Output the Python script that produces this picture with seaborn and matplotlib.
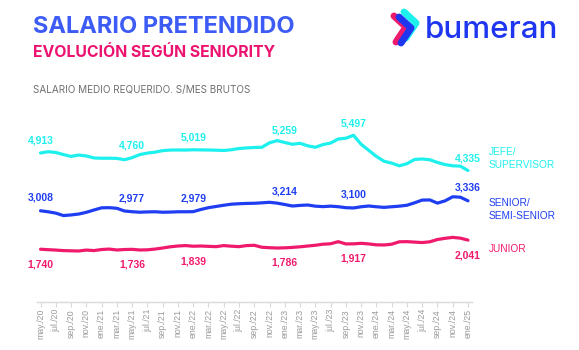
import matplotlib
matplotlib.use("Agg")
import matplotlib.pyplot as plt
import numpy as np
import pandas as pd
import seaborn as sns

# Monthly series, may./20 .. ene./25 (57 months)
jefe = [4913, 4955, 4930, 4860, 4800, 4845, 4815, 4750, 4740, 4740,
        4735, 4690, 4760, 4860, 4910, 4940, 4990, 5010, 5012, 5010,
        5019, 5015, 5012, 5005, 4995, 5020, 5060, 5080, 5095, 5100,
        5250, 5320, 5259, 5200, 5232, 5150, 5100, 5190, 5240, 5374,
        5400, 5497, 5200, 5000, 4800, 4640, 4580, 4490, 4560, 4700,
        4715, 4690, 4600, 4530, 4490, 4480, 4335]
senior = [3008, 2975, 2930, 2850, 2870, 2900, 2957, 3033, 3105, 3110,
          3090, 3000, 2977, 2960, 2970, 2975, 2960, 2965, 2975, 2975,
          2979, 3050, 3110, 3150, 3190, 3225, 3240, 3250, 3255, 3270,
          3287, 3260, 3214, 3165, 3185, 3198, 3160, 3145, 3160, 3142,
          3110, 3100, 3140, 3165, 3140, 3120, 3140, 3160, 3190, 3270,
          3360, 3365, 3260, 3335, 3470, 3455, 3336]
junior = [1740, 1725, 1712, 1695, 1688, 1682, 1712, 1695, 1730, 1745,
          1715, 1730, 1736, 1715, 1720, 1745, 1780, 1820, 1846, 1860,
          1839, 1846, 1835, 1825, 1860, 1840, 1825, 1860, 1870, 1805,
          1790, 1780, 1786, 1800, 1820, 1846, 1870, 1905, 1920, 1989,
          1915, 1917, 1935, 1915, 1885, 1880, 1905, 1985, 1990, 1975,
          1960, 1985, 2060, 2100, 2130, 2105, 2041]

# Months whose value is written on the chart
label_months = [0, 12, 20, 32, 41, 56]

tick_labels = ["may./20", "jul./20", "sep./20", "nov./20", "ene./21", "mar./21",
               "may./21", "jul./21", "sep./21", "nov./21", "ene./22", "mar./22",
               "may./22", "jul./22", "sep./22", "nov./22", "ene./23", "mar./23",
               "may./23", "jul./23", "sep./23", "nov./23", "ene./24", "mar./24",
               "may./24", "jul./24", "sep./24", "nov./24", "ene./25"]

series_names = ["JEFE/\nSUPERVISOR", "SENIOR/\nSEMI-SENIOR", "JUNIOR"]
CYAN, BLUE, PINK = "#1ef0ee", "#1f3ef2", "#f01a6c"
palette = dict(zip(series_names, [CYAN, BLUE, PINK]))

n = len(jefe)
df = pd.DataFrame({
    "mes": np.tile(np.arange(n), 3),
    "salario": jefe + senior + junior,
    "serie": np.repeat(series_names, n),
})

sns.set_theme(style="white")
plt.rcParams["font.family"] = ["Liberation Sans", "DejaVu Sans"]

W, H = 579, 350
fig = plt.figure(figsize=(W / 100, H / 100), dpi=100)
fig.patch.set_facecolor("white")

ax_left, ax_right, ax_bottom, ax_top = 36.7, 471.8, 302, 100
ax = fig.add_axes([ax_left / W, 1 - ax_bottom / H,
                   (ax_right - ax_left) / W, (ax_bottom - ax_top) / H])

sns.lineplot(data=df, x="mes", y="salario", hue="serie", palette=palette,
             linewidth=2.3, legend=False, ax=ax)

ax.set_xlim(-0.5, n - 0.5)
ax.set_ylim(0, 6660)
ax.set_xlabel("")
ax.set_ylabel("")
ax.set_yticks([])
ax.set_xticks(np.arange(0, n, 2))
ax.set_xticklabels(tick_labels, rotation=90, fontsize=6.3, color="#9a9a9a")
ax.tick_params(axis="x", length=3.5, width=0.8, color="#d9d9d9", pad=1.5,
               bottom=True, direction="out")
for side in ["top", "right", "left"]:
    ax.spines[side].set_visible(False)
ax.spines["bottom"].set_color("#d9d9d9")
ax.spines["bottom"].set_linewidth(1.0)
ax.set_facecolor("white")

# Value labels
for values, color, dy in [(jefe, CYAN, 12), (senior, BLUE, 13), (junior, PINK, -15)]:
    for m in label_months:
        ax.annotate(f"{values[m]:,}", (m, values[m]), xytext=(0, dy),
                    textcoords="offset pixels", ha="center", va="center",
                    fontsize=7.5, fontweight="bold", color=color)

# Series names at the right end
def px(x, y):
    return x / W, 1 - y / H

for name, color, y in [(series_names[0], CYAN, 158.5),
                       (series_names[1], BLUE, 209.5),
                       (series_names[2], PINK, 248.5)]:
    fig.text(*px(489, y), name, color=color, fontsize=7.3, ha="left",
             va="center", linespacing=1.45)

# Headings
fig.text(*px(33, 33), "SALARIO PRETENDIDO", family=["Inter", "DejaVu Sans"],
         fontsize=17.0, fontweight="bold", color="#3d5cf5", va="baseline")
fig.text(*px(33, 57), "EVOLUCIÓN SEGÚN SENIORITY", family=["Inter", "DejaVu Sans"],
         fontsize=11.4, fontweight="bold", color="#ec1270", va="baseline")
fig.text(*px(33, 93), "SALARIO MEDIO REQUERIDO. S/MES BRUTOS",
         family=["Inter", "DejaVu Sans"], fontsize=7.15, color="#707070",
         va="baseline")

# Brand mark
logo = fig.add_axes([0, 0, 1, 1], zorder=5)
logo.set_xlim(0, W)
logo.set_ylim(H, 0)
logo.axis("off")
logo.patch.set_alpha(0)
chev = np.array([[0, 0], [12, 11], [2, 26]], dtype=float)
for (ox, oy), c in [((404, 12), CYAN), ((394, 16), PINK), ((399, 17), "#1f36f0")]:
    logo.plot(chev[:, 0] + ox, chev[:, 1] + oy, color=c, lw=5.0,
              solid_capstyle="round", solid_joinstyle="round")
fig.text(*px(425, 38), "bumeran", family=["Inter", "DejaVu Sans"],
         fontsize=22.6, fontweight="medium", color="#1f36f0", va="baseline")

fig.savefig("out.png", dpi=100, facecolor="white")
